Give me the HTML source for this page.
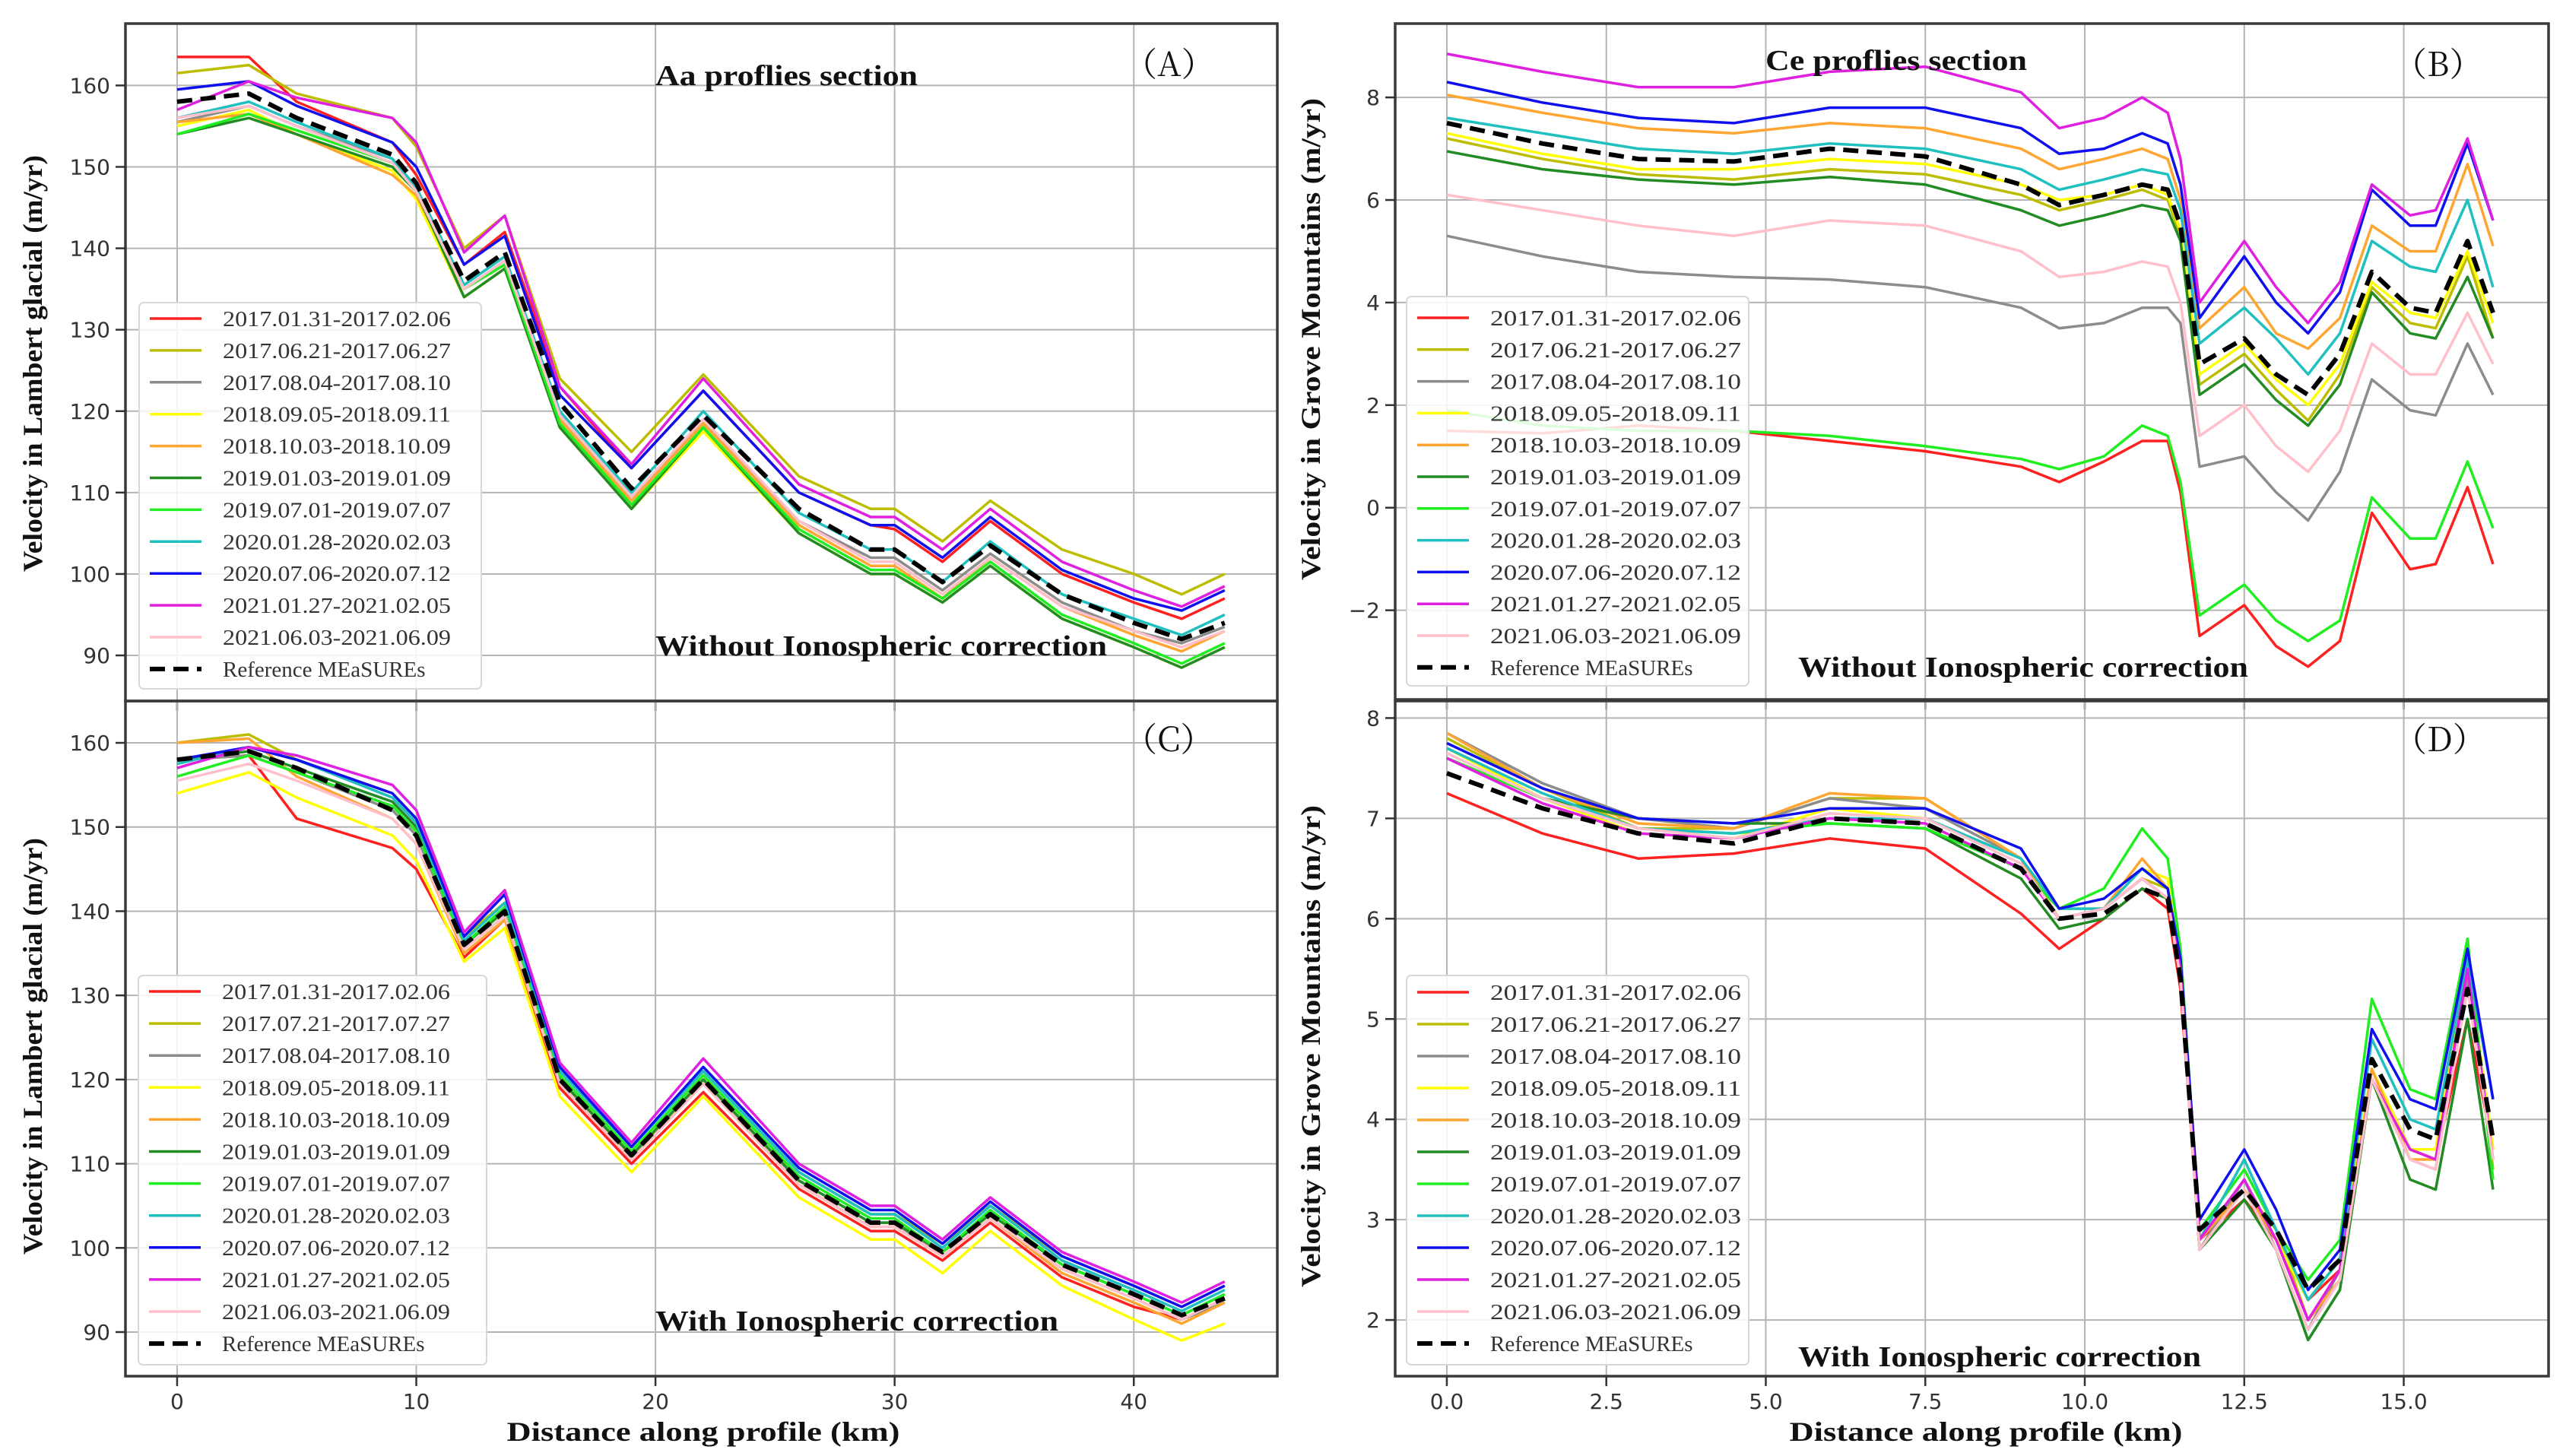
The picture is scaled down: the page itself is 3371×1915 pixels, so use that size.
<!DOCTYPE html>
<html><head><meta charset="utf-8">
<style>
html,body{margin:0;padding:0;background:#fff;}
svg{display:block;}
</style></head>
<body>
<svg id="fig" xmlns="http://www.w3.org/2000/svg" width="3371" height="1915" viewBox="0 0 3371 1915"></svg>
<script>
// ---------- shared data ----------
const seriesNames = ["2017.01.31-2017.02.06","2017.06.21-2017.06.27","2017.08.04-2017.08.10","2018.09.05-2018.09.11","2018.10.03-2018.10.09","2019.01.03-2019.01.09","2019.07.01-2019.07.07","2020.01.28-2020.02.03","2020.07.06-2020.07.12","2021.01.27-2021.02.05","2021.06.03-2021.06.09"];
const seriesNamesC = ["2017.01.31-2017.02.06","2017.07.21-2017.07.27","2017.08.04-2017.08.10","2018.09.05-2018.09.11","2018.10.03-2018.10.09","2019.01.03-2019.01.09","2019.07.01-2019.07.07","2020.01.28-2020.02.03","2020.07.06-2020.07.12","2021.01.27-2021.02.05","2021.06.03-2021.06.09"];
const refName = "Reference MEaSUREs";
const seriesColors = ["#ff2020","#bdbd00","#8c8c8c","#ffff00","#ffa531","#238b23","#20ee20","#20c0c0","#1010ee","#e020e0","#ffc0cb"];

// ---------- Panel A / C distances (km) ----------
const distAC = [0,3,5,9,10,12,13.7,16,19,22,26,29,30,32,34,37,40,42,43.8];
const refA = [158,159,156,151.5,148,136,139.5,121,110.5,119.5,108,103,103,99,103.5,97.5,94,92,94];
const valsA = [
 [163.5,163.5,158,153,149,138,142,123,113,122.5,110,106,105.5,101.5,106.5,100,96.5,94.5,97],
 [161.5,162.5,159,156,152.5,140,144,124,115,124.5,112,108,108,104,109,103,100,97.5,100],
 [155.5,157.5,155,151,147,135,138.5,119.5,109.5,118.5,106.5,102,102,98,102.5,96.5,93,91.5,93.5],
 [155,157,154,149.5,146,134,137.5,118,108,117.5,105,100,100,96.5,101,94.5,91,88.5,91],
 [155.5,156.5,154,149,146.5,135,138,119,109,118.5,106,101,101,97,102,96,92.5,90.5,93],
 [154,156,154,150,147,134,137.5,118,108,118,105,100,100,96.5,101,94.5,91,88.5,91],
 [154,156.5,154.5,150.5,147,135,138,118.5,108.5,118,105.5,100.5,100.5,97,101.5,95,91.5,89,91.5],
 [156,158,155.5,151,147.5,135.5,139,120,110,120,107.5,103,103,99,104,97.5,94.5,92.5,95],
 [159.5,160.5,157.5,153,150,138,141.5,122,113,122.5,110,106,106,102,107,100.5,97,95.5,98],
 [157,160.5,158.5,156,153,139.5,144,123,113.5,124,111,107,107,103,108,101.5,98,96,98.5],
 [156,157.5,155,150.5,147,135,138.5,119.5,109.5,119,106.5,101.5,101.5,97.5,102,96,93,91,93]
];
const refC = [158,159,157,152,149,136,140,120,111,120,108,103,103,99.5,104,98,94.5,92,94];
const valsC = [
 [158,158.5,151,147.5,145,134.5,139,119,110,118.5,107,102,102,98.5,103,96.5,93,91.5,94],
 [160,161,158,154,151,137,141,121,112,121,109,104,104,100.5,105,99,95.5,93,95.5],
 [158,158.5,156.5,152,149,135.5,139.5,120,111,119.5,108,103,103,99,103.5,97.5,94,91.5,93.5],
 [154,156.5,153.5,149,146,134,138,118,109,118,106,101,101,97,102,95.5,91.5,89,91],
 [160,160.5,156,151,148,135,139,119.5,110.5,119.5,107.5,102.5,102.5,99,103.5,97,93.5,91,93.5],
 [158,159,157,153,150,136,140,120,111,120,108,103,103,99.5,104,98,94.5,92,94.5],
 [156,158.5,156.5,152.5,149.5,136,140.5,120.5,111.5,120.5,108.5,103.5,103.5,99.5,104.5,98,94.5,92,94.5],
 [157.5,159.5,158,153.5,150.5,136.5,141,121,112,121,109,104,104,100,105,98.5,95,92.5,95],
 [158,159.5,158,154,151,137,142,121.5,112,121.5,109.5,104.5,104.5,100.5,105.5,99,95.5,93,95.5],
 [157,159.5,158.5,155,152,137.5,142.5,122,112.5,122.5,110,105,105,101,106,99.5,96,93.5,96],
 [155.5,157.5,155.5,151,148,135.5,139.5,119.5,110.5,119.5,107.5,102.5,102.5,99,103.5,97.5,94,91.5,94]
];

// ---------- Panel B / D distances (km) ----------
const distBD = [0,1.5,3,4.5,6,7.5,9,9.6,10.3,10.9,11.3,11.5,11.8,12.5,13,13.5,14,14.5,15.1,15.5,16,16.4];
const refB = [7.5,7.1,6.8,6.75,7.0,6.85,6.3,5.9,6.1,6.3,6.2,5.5,2.8,3.3,2.6,2.2,3.0,4.6,3.9,3.8,5.2,3.8];
const valsB = [
 [1.5,1.45,1.6,1.5,1.3,1.1,0.8,0.5,0.9,1.3,1.3,0.3,-2.5,-1.9,-2.7,-3.1,-2.6,-0.1,-1.2,-1.1,0.4,-1.1],
 [7.2,6.8,6.5,6.4,6.6,6.5,6.1,5.8,6.0,6.2,6.0,5.3,2.4,3.0,2.3,1.7,2.6,4.3,3.6,3.5,4.9,3.3],
 [5.3,4.9,4.6,4.5,4.45,4.3,3.9,3.5,3.6,3.9,3.9,3.6,0.8,1.0,0.3,-0.25,0.7,2.5,1.9,1.8,3.2,2.2],
 [7.3,6.9,6.6,6.6,6.8,6.7,6.3,6.0,6.1,6.3,6.1,5.4,2.6,3.2,2.5,2.0,2.8,4.4,3.8,3.7,5.0,3.6],
 [8.05,7.7,7.4,7.3,7.5,7.4,7.0,6.6,6.8,7.0,6.8,6.0,3.5,4.3,3.4,3.1,3.7,5.5,5.0,5.0,6.7,5.1],
 [6.95,6.6,6.4,6.3,6.45,6.3,5.8,5.5,5.7,5.9,5.8,5.2,2.2,2.8,2.1,1.6,2.4,4.2,3.4,3.3,4.5,3.3],
 [1.9,1.6,1.5,1.5,1.4,1.2,0.95,0.75,1.0,1.6,1.4,0.5,-2.1,-1.5,-2.2,-2.6,-2.2,0.2,-0.6,-0.6,0.9,-0.4],
 [7.6,7.3,7.0,6.9,7.1,7.0,6.6,6.2,6.4,6.6,6.5,5.8,3.2,3.9,3.3,2.6,3.4,5.2,4.7,4.6,6.0,4.3],
 [8.3,7.9,7.6,7.5,7.8,7.8,7.4,6.9,7.0,7.3,7.1,6.3,3.7,4.9,4.0,3.4,4.2,6.2,5.5,5.5,7.1,5.6],
 [8.85,8.5,8.2,8.2,8.5,8.6,8.1,7.4,7.6,8.0,7.7,6.8,4.0,5.2,4.3,3.6,4.4,6.3,5.7,5.8,7.2,5.6],
 [6.1,5.8,5.5,5.3,5.6,5.5,5.0,4.5,4.6,4.8,4.7,4.0,1.4,2.0,1.2,0.7,1.5,3.2,2.6,2.6,3.8,2.8]
];
const refD = [7.45,7.1,6.85,6.75,7.0,6.95,6.5,6.0,6.05,6.3,6.2,5.4,2.9,3.3,2.9,2.3,2.6,4.6,3.9,3.8,5.3,3.8];
const valsD = [
 [7.25,6.85,6.6,6.65,6.8,6.7,6.05,5.7,6.0,6.3,6.1,5.3,2.8,3.2,2.8,2.2,2.5,4.5,3.7,3.6,5.0,3.7],
 [7.8,7.3,6.9,6.9,7.2,7.2,6.6,6.0,6.1,6.4,6.3,5.5,2.8,3.3,2.9,2.0,2.4,4.5,3.7,3.6,5.6,3.5],
 [7.85,7.35,7.0,6.9,7.2,7.1,6.6,6.0,6.1,6.4,6.2,5.4,2.7,3.4,2.7,1.9,2.5,4.4,3.6,3.5,5.4,3.7],
 [7.7,7.2,6.85,6.8,7.1,7.0,6.6,6.1,6.1,6.5,6.4,5.5,2.8,3.3,2.8,2.2,2.6,4.5,3.7,3.7,5.6,3.7],
 [7.85,7.3,6.95,6.9,7.25,7.2,6.6,6.0,6.1,6.6,6.3,5.5,2.8,3.3,2.8,2.0,2.4,4.5,3.6,3.6,5.5,3.6],
 [7.6,7.2,7.0,6.95,6.95,6.9,6.4,5.9,6.0,6.3,6.2,5.4,2.7,3.2,2.7,1.8,2.3,4.4,3.4,3.3,5.0,3.3],
 [7.6,7.2,6.9,6.85,6.95,6.9,6.5,6.1,6.3,6.9,6.6,5.7,2.9,3.5,2.9,2.4,2.8,5.2,4.3,4.2,5.8,3.4],
 [7.7,7.25,6.9,6.85,7.0,7.0,6.6,6.1,6.1,6.5,6.3,5.5,2.8,3.6,2.9,2.2,2.6,4.8,4.0,3.9,5.6,4.2],
 [7.75,7.3,7.0,6.95,7.1,7.1,6.7,6.1,6.2,6.5,6.3,5.6,3.0,3.7,3.1,2.3,2.7,4.9,4.2,4.1,5.7,4.2],
 [7.6,7.15,6.85,6.8,7.0,6.95,6.5,6.0,6.1,6.4,6.2,5.5,2.8,3.4,2.8,2.0,2.5,4.4,3.7,3.6,5.5,3.6],
 [7.65,7.2,6.9,6.8,7.05,7.0,6.55,6.0,6.1,6.4,6.2,5.4,2.7,3.3,2.7,1.9,2.4,4.4,3.6,3.5,5.3,3.6]
];

// tick values
const ticksXAC = [0,10,20,30,40];
const ticksXBD = [0,2.5,5,7.5,10,12.5,15];
const ticksYAC = [90,100,110,120,130,140,150,160];
const ticksYB = [-2,0,2,4,6,8];
const ticksYD = [2,3,4,5,6,7,8];

const NS = "http://www.w3.org/2000/svg";
const fig = document.getElementById('fig');
function mk(tag, attrs, parent){
  const e = document.createElementNS(NS, tag);
  for (const k in attrs) e.setAttribute(k, attrs[k]);
  (parent||fig).appendChild(e);
  return e;
}

function panel(cfg){
  const g = mk('g', {});
  
  
  const sx = v => cfg.l + (v - cfg.xmin) / (cfg.xmax - cfg.xmin) * (cfg.r - cfg.l);
  const sy = v => cfg.b - (v - cfg.ymin) / (cfg.ymax - cfg.ymin) * (cfg.b - cfg.t);
  const clipId = 'clip' + cfg.id;
  const cp = mk('clipPath', {id: clipId}, g);
  mk('rect', {x: cfg.l, y: cfg.t, width: cfg.r - cfg.l, height: cfg.b - cfg.t}, cp);

  cfg.xt.forEach(v => {
    const ln = mk('line', {x1: sx(v), x2: sx(v), y1: cfg.t, y2: cfg.b, stroke: '#b4b4b4', 'stroke-width': 2}, g);
    
    
  });
  cfg.yt.forEach(v => {
    const ln = mk('line', {x1: cfg.l, x2: cfg.r, y1: sy(v), y2: sy(v), stroke: '#b4b4b4', 'stroke-width': 2}, g);
    
    
  });

  const lines = mk('g', {'clip-path': 'url(#' + clipId + ')'}, g);
  
  
  const pathFor = arr => arr.map((v, i) => (i ? 'L' : 'M') + sx(cfg.xs[i]).toFixed(1) + ',' + sy(v).toFixed(1)).join(' ');
  cfg.vals.forEach((arr, i) => {
    const p = mk('path', {d: pathFor(arr), fill: 'none', stroke: seriesColors[i], 'stroke-width': 3.5, 'stroke-linejoin': 'round'}, lines);
    
    
  });
  const rp = mk('path', {d: pathFor(cfg.ref), fill: 'none', stroke: '#000', 'stroke-width': 6, 'stroke-dasharray': '20,11', 'stroke-linejoin': 'round'}, lines);
  
  

  const fr = mk('rect', {x: cfg.l, y: cfg.t, width: cfg.r - cfg.l, height: cfg.b - cfg.t, fill: 'none', stroke: '#3a3a3a', 'stroke-width': 3.5}, g);
  
  

  cfg.yt.forEach((v, i) => {
    mk('line', {x1: cfg.l - 13, x2: cfg.l, y1: sy(v), y2: sy(v), stroke: '#333', 'stroke-width': 2.5}, g);
    const t = mk('text', {x: cfg.l - 20, y: sy(v) + 10, 'text-anchor': 'end', 'font-family': 'DejaVu Sans, Liberation Sans, sans-serif', 'font-size': 28, fill: '#333'}, g);
    t.textContent = cfg.ytl[i];
    
    
  });
  cfg.xt.forEach((v, i) => {
    mk('line', {x1: sx(v), x2: sx(v), y1: cfg.b, y2: cfg.b + 13, stroke: '#333', 'stroke-width': 2.5}, g);
    if (cfg.showX) {
      const t = mk('text', {x: sx(v), y: cfg.b + 43, 'text-anchor': 'middle', 'font-family': 'DejaVu Sans, Liberation Sans, sans-serif', 'font-size': 28, fill: '#333'}, g);
      t.textContent = cfg.xtl[i];
      
      
    }
  });

  const lg = mk('g', {}, g);
  
  
  mk('rect', {x: cfg.lg.x, y: cfg.lg.y, width: cfg.lg.w, height: cfg.lg.h, rx: 6, fill: '#fff', 'fill-opacity': 0.85, stroke: '#d8d8d8', 'stroke-width': 2}, lg);
  const labels = cfg.names.concat([refName]);
  labels.forEach((nm, i) => {
    const yy = cfg.lg.e0 + i * cfg.lg.dy;
    const isRef = i === labels.length - 1;
    mk('line', {x1: cfg.lg.x + 14, x2: cfg.lg.x + 82, y1: yy, y2: yy, stroke: isRef ? '#000' : seriesColors[i], 'stroke-width': isRef ? 6 : 3.5, 'stroke-dasharray': isRef ? '20,11' : 'none'}, lg);
    const t = mk('text', {x: cfg.lg.x + 110, y: yy + 10, 'font-family': 'Liberation Serif, serif', 'font-size': 29, fill: '#333'}, lg);
    t.textContent = nm;
    if (!isRef) { t.setAttribute('textLength', cfg.lg.tl); t.setAttribute('lengthAdjust', 'spacingAndGlyphs'); }
    
    
  });

  cfg.texts.forEach(tx => {
    const t = mk('text', {x: tx.x, y: tx.y, 'font-family': tx.f || 'Liberation Serif, serif', 'font-size': tx.s, 'font-weight': tx.w || 'bold', fill: '#111'}, g);
    t.textContent = tx.t;
    if (tx.len) { t.setAttribute('textLength', tx.len); t.setAttribute('lengthAdjust', 'spacingAndGlyphs'); }
    
    
  });
}

const ytlAC = ticksYAC.map(String);
const xtlAC = ticksXAC.map(String);
const xtlBD = ticksXBD.map(v => v.toFixed(1));
const panelLabelFont = '"Noto Serif CJK SC", "Liberation Serif", serif';

panel({id:'a', l:165, r:1680, t:31, b:922, xmin:-2.16, xmax:46.0, ymin:84.4, ymax:167.6,
  xs:distAC, vals:valsA, ref:refA, names:seriesNames, xt:ticksXAC, xtl:xtlAC, yt:ticksYAC, ytl:ytlAC, showX:false,
  lg:{x:183, y:398, w:450, h:508, e0:419, dy:41.9, tl:300},
  texts:[{t:'Aa proflies section', x:862, y:112, s:38, len:345, n:'panel-a-title'},
         {t:'（A）', x:1478, y:100, s:44, w:'normal', f:panelLabelFont, n:'panel-a-label'},
         {t:'Without Ionospheric correction', x:862, y:862, s:38, len:594, n:'panel-a-note'}]});
panel({id:'c', l:165, r:1680, t:922, b:1810, xmin:-2.16, xmax:46.0, ymin:84.76, ymax:164.97,
  xs:distAC, vals:valsC, ref:refC, names:seriesNamesC, xt:ticksXAC, xtl:xtlAC, yt:ticksYAC, ytl:ytlAC, showX:true,
  lg:{x:182, y:1283, w:458, h:512, e0:1304, dy:42.1, tl:300},
  texts:[{t:'（C）', x:1478, y:988, s:44, w:'normal', f:panelLabelFont, n:'panel-c-label'},
         {t:'With Ionospheric correction', x:862, y:1750, s:38, len:530, n:'panel-c-note'}]});
panel({id:'b', l:1835, r:3352, t:31, b:920, xmin:-0.81, xmax:17.27, ymin:-3.74, ymax:9.44,
  xs:distBD, vals:valsB, ref:refB, names:seriesNames, xt:ticksXBD, xtl:xtlBD, yt:ticksYB, ytl:ticksYB.map(v => v < 0 ? '\u2212' + (-v) : String(v)), showX:false,
  lg:{x:1850, y:390, w:450, h:512, e0:418, dy:41.8, tl:330},
  texts:[{t:'Ce proflies section', x:2322, y:92, s:38, len:344, n:'panel-b-title'},
         {t:'（B）', x:3148, y:100, s:44, w:'normal', f:panelLabelFont, n:'panel-b-label'},
         {t:'Without Ionospheric correction', x:2365, y:890, s:38, len:592, n:'panel-b-note'}]});
panel({id:'d', l:1835, r:3352, t:922, b:1810, xmin:-0.81, xmax:17.27, ymin:1.44, ymax:8.17,
  xs:distBD, vals:valsD, ref:refD, names:seriesNames, xt:ticksXBD, xtl:xtlBD, yt:ticksYD, ytl:ticksYD.map(String), showX:true,
  lg:{x:1850, y:1283, w:450, h:512, e0:1305, dy:42, tl:330},
  texts:[{t:'（D）', x:3148, y:988, s:44, w:'normal', f:panelLabelFont, n:'panel-d-label'},
         {t:'With Ionospheric correction', x:2365, y:1797, s:38, len:530, n:'panel-d-note'}]});

function vtitle(txt, cx, cy, len, name){
  const t = mk('text', {x: 0, y: 0, transform: 'translate(' + cx + ',' + cy + ') rotate(-90)', 'text-anchor': 'middle', 'font-family': 'Liberation Serif, serif', 'font-weight': 'bold', 'font-size': 36, fill: '#111', textLength: len, lengthAdjust: 'spacingAndGlyphs'});
  t.textContent = txt;
  
  
}
vtitle('Velocity in Lambert glacial (m/yr)', 55, 478, 548, 'y-axis-title-a');
vtitle('Velocity in Lambert glacial (m/yr)', 55, 1376, 548, 'y-axis-title-c');
vtitle('Velocity in Grove Mountains (m/yr)', 1736, 446, 634, 'y-axis-title-b');
vtitle('Velocity in Grove Mountains (m/yr)', 1736, 1376, 634, 'y-axis-title-d');
function xtitle(txt, cx, name){
  const t = mk('text', {x: cx, y: 1895, 'text-anchor': 'middle', 'font-family': 'Liberation Serif, serif', 'font-weight': 'bold', 'font-size': 36, fill: '#111', textLength: 517, lengthAdjust: 'spacingAndGlyphs'});
  t.textContent = txt;
  
  
}
xtitle('Distance along profile (km)', 925, 'x-axis-title-c');
xtitle('Distance along profile (km)', 2612, 'x-axis-title-d');
</script>
</body></html>
